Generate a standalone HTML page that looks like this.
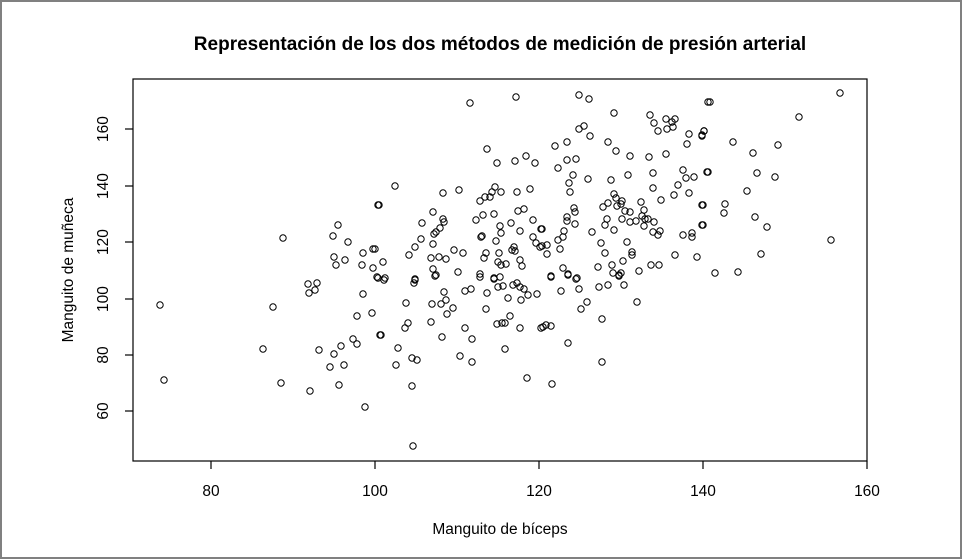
<!DOCTYPE html>
<html><head><meta charset="utf-8"><style>
html,body{margin:0;padding:0;background:#fff;}
svg{display:block;}
text{font-family:"Liberation Sans",Arial,sans-serif;fill:#000;}
</style></head><body>
<svg width="962" height="560" viewBox="0 0 962 560" xmlns="http://www.w3.org/2000/svg">
<rect x="1" y="1" width="960" height="557" fill="#fff" stroke="#808080" stroke-width="2"/>
<text x="500" y="50" font-size="19" font-weight="bold" text-anchor="middle">Representación de los dos métodos de medición de presión arterial</text>
<rect x="133" y="79" width="734" height="382" fill="none" stroke="#000" stroke-width="1.2"/>
<g stroke="#000" stroke-width="1.2">
<line x1="211" y1="461" x2="211" y2="469"/><line x1="375" y1="461" x2="375" y2="469"/><line x1="539" y1="461" x2="539" y2="469"/><line x1="703" y1="461" x2="703" y2="469"/><line x1="867" y1="461" x2="867" y2="469"/>
<line x1="125" y1="129" x2="133" y2="129"/><line x1="125" y1="186" x2="133" y2="186"/><line x1="125" y1="242" x2="133" y2="242"/><line x1="125" y1="299" x2="133" y2="299"/><line x1="125" y1="355" x2="133" y2="355"/><line x1="125" y1="411" x2="133" y2="411"/>
</g>
<g font-size="15.5" text-anchor="middle">
<text x="211" y="496">80</text><text x="375" y="496">100</text><text x="539" y="496">120</text><text x="703" y="496">140</text><text x="867" y="496">160</text>
<text transform="translate(108,129) rotate(-90)">160</text>
<text transform="translate(108,186) rotate(-90)">140</text>
<text transform="translate(108,242) rotate(-90)">120</text>
<text transform="translate(108,299) rotate(-90)">100</text>
<text transform="translate(108,355) rotate(-90)">80</text>
<text transform="translate(108,411) rotate(-90)">60</text>
<text x="500" y="534">Manguito de bíceps</text>
<text transform="translate(73,270) rotate(-90)">Manguito de muñeca</text>
</g>
<g fill="none" stroke="#000" stroke-width="1">
<circle cx="283" cy="238" r="3.2"/><circle cx="333" cy="236" r="3.2"/><circle cx="338" cy="225" r="3.2"/><circle cx="348" cy="242" r="3.2"/><circle cx="334" cy="257" r="3.2"/><circle cx="336" cy="265" r="3.2"/><circle cx="345" cy="260" r="3.2"/><circle cx="363" cy="253" r="3.2"/><circle cx="362" cy="265" r="3.2"/><circle cx="373" cy="249" r="3.2"/><circle cx="373" cy="268" r="3.2"/><circle cx="378" cy="205" r="3.2"/><circle cx="377" cy="277" r="3.2"/>
<circle cx="160" cy="305" r="3.2"/><circle cx="164" cy="380" r="3.2"/><circle cx="273" cy="307" r="3.2"/><circle cx="263" cy="349" r="3.2"/><circle cx="281" cy="383" r="3.2"/><circle cx="308" cy="284" r="3.2"/><circle cx="317" cy="283" r="3.2"/><circle cx="315" cy="290" r="3.2"/><circle cx="309" cy="293" r="3.2"/><circle cx="363" cy="294" r="3.2"/><circle cx="357" cy="316" r="3.2"/><circle cx="372" cy="313" r="3.2"/><circle cx="353" cy="339" r="3.2"/><circle cx="357" cy="344" r="3.2"/><circle cx="319" cy="350" r="3.2"/><circle cx="334" cy="354" r="3.2"/><circle cx="341" cy="346" r="3.2"/><circle cx="330" cy="367" r="3.2"/><circle cx="344" cy="365" r="3.2"/><circle cx="339" cy="385" r="3.2"/><circle cx="310" cy="391" r="3.2"/><circle cx="365" cy="407" r="3.2"/><circle cx="378" cy="278" r="3.2"/><circle cx="380" cy="335" r="3.2"/>
<circle cx="470" cy="103" r="3.2"/><circle cx="516" cy="97" r="3.2"/><circle cx="487" cy="149" r="3.2"/><circle cx="497" cy="163" r="3.2"/><circle cx="515" cy="161" r="3.2"/><circle cx="526" cy="156" r="3.2"/><circle cx="535" cy="163" r="3.2"/><circle cx="395" cy="186" r="3.2"/><circle cx="379" cy="205" r="3.2"/><circle cx="443" cy="193" r="3.2"/><circle cx="459" cy="190" r="3.2"/><circle cx="480" cy="201" r="3.2"/><circle cx="485" cy="197" r="3.2"/><circle cx="490" cy="197" r="3.2"/><circle cx="492" cy="192" r="3.2"/><circle cx="495" cy="187" r="3.2"/><circle cx="501" cy="192" r="3.2"/><circle cx="517" cy="192" r="3.2"/><circle cx="530" cy="189" r="3.2"/><circle cx="433" cy="212" r="3.2"/><circle cx="422" cy="223" r="3.2"/><circle cx="443" cy="219" r="3.2"/><circle cx="444" cy="222" r="3.2"/><circle cx="440" cy="228" r="3.2"/><circle cx="436" cy="232" r="3.2"/><circle cx="434" cy="234" r="3.2"/><circle cx="421" cy="239" r="3.2"/><circle cx="415" cy="247" r="3.2"/><circle cx="409" cy="255" r="3.2"/><circle cx="433" cy="244" r="3.2"/><circle cx="431" cy="258" r="3.2"/><circle cx="439" cy="257" r="3.2"/><circle cx="446" cy="259" r="3.2"/><circle cx="454" cy="250" r="3.2"/><circle cx="463" cy="253" r="3.2"/><circle cx="433" cy="269" r="3.2"/><circle cx="436" cy="275" r="3.2"/><circle cx="458" cy="272" r="3.2"/><circle cx="383" cy="262" r="3.2"/><circle cx="375" cy="249" r="3.2"/><circle cx="415" cy="279" r="3.2"/><circle cx="385" cy="278" r="3.2"/><circle cx="476" cy="220" r="3.2"/><circle cx="483" cy="215" r="3.2"/><circle cx="494" cy="214" r="3.2"/><circle cx="518" cy="211" r="3.2"/><circle cx="524" cy="209" r="3.2"/><circle cx="533" cy="220" r="3.2"/><circle cx="541" cy="229" r="3.2"/><circle cx="482" cy="236" r="3.2"/><circle cx="481" cy="237" r="3.2"/><circle cx="500" cy="226" r="3.2"/><circle cx="501" cy="233" r="3.2"/><circle cx="496" cy="241" r="3.2"/><circle cx="511" cy="223" r="3.2"/><circle cx="520" cy="231" r="3.2"/><circle cx="533" cy="237" r="3.2"/><circle cx="536" cy="243" r="3.2"/><circle cx="540" cy="247" r="3.2"/><circle cx="514" cy="247" r="3.2"/><circle cx="512" cy="250" r="3.2"/><circle cx="515" cy="251" r="3.2"/><circle cx="486" cy="253" r="3.2"/><circle cx="484" cy="258" r="3.2"/><circle cx="499" cy="253" r="3.2"/><circle cx="498" cy="262" r="3.2"/><circle cx="501" cy="265" r="3.2"/><circle cx="506" cy="264" r="3.2"/><circle cx="520" cy="260" r="3.2"/><circle cx="522" cy="266" r="3.2"/><circle cx="480" cy="274" r="3.2"/><circle cx="494" cy="278" r="3.2"/><circle cx="500" cy="277" r="3.2"/>
<circle cx="384" cy="280" r="3.2"/><circle cx="415" cy="280" r="3.2"/><circle cx="414" cy="283" r="3.2"/><circle cx="435" cy="276" r="3.2"/><circle cx="480" cy="277" r="3.2"/><circle cx="494" cy="279" r="3.2"/><circle cx="444" cy="292" r="3.2"/><circle cx="465" cy="291" r="3.2"/><circle cx="471" cy="289" r="3.2"/><circle cx="487" cy="293" r="3.2"/><circle cx="498" cy="287" r="3.2"/><circle cx="503" cy="286" r="3.2"/><circle cx="513" cy="285" r="3.2"/><circle cx="517" cy="283" r="3.2"/><circle cx="520" cy="287" r="3.2"/><circle cx="524" cy="289" r="3.2"/><circle cx="528" cy="295" r="3.2"/><circle cx="537" cy="294" r="3.2"/><circle cx="508" cy="298" r="3.2"/><circle cx="521" cy="300" r="3.2"/><circle cx="406" cy="303" r="3.2"/><circle cx="432" cy="304" r="3.2"/><circle cx="441" cy="304" r="3.2"/><circle cx="446" cy="300" r="3.2"/><circle cx="453" cy="308" r="3.2"/><circle cx="447" cy="314" r="3.2"/><circle cx="486" cy="309" r="3.2"/><circle cx="510" cy="316" r="3.2"/><circle cx="408" cy="323" r="3.2"/><circle cx="405" cy="328" r="3.2"/><circle cx="431" cy="322" r="3.2"/><circle cx="465" cy="328" r="3.2"/><circle cx="497" cy="324" r="3.2"/><circle cx="502" cy="323" r="3.2"/><circle cx="505" cy="323" r="3.2"/><circle cx="520" cy="328" r="3.2"/><circle cx="541" cy="328" r="3.2"/><circle cx="381" cy="335" r="3.2"/><circle cx="442" cy="337" r="3.2"/><circle cx="472" cy="339" r="3.2"/><circle cx="398" cy="348" r="3.2"/><circle cx="505" cy="349" r="3.2"/><circle cx="412" cy="358" r="3.2"/><circle cx="417" cy="360" r="3.2"/><circle cx="396" cy="365" r="3.2"/><circle cx="460" cy="356" r="3.2"/><circle cx="472" cy="362" r="3.2"/><circle cx="527" cy="378" r="3.2"/><circle cx="412" cy="386" r="3.2"/><circle cx="413" cy="446" r="3.2"/>
<circle cx="579" cy="95" r="3.2"/><circle cx="589" cy="99" r="3.2"/><circle cx="614" cy="113" r="3.2"/><circle cx="650" cy="115" r="3.2"/><circle cx="666" cy="119" r="3.2"/><circle cx="675" cy="119" r="3.2"/><circle cx="672" cy="122" r="3.2"/><circle cx="654" cy="123" r="3.2"/><circle cx="658" cy="131" r="3.2"/><circle cx="667" cy="129" r="3.2"/><circle cx="673" cy="127" r="3.2"/><circle cx="579" cy="129" r="3.2"/><circle cx="584" cy="126" r="3.2"/><circle cx="590" cy="136" r="3.2"/><circle cx="689" cy="134" r="3.2"/><circle cx="702" cy="135" r="3.2"/><circle cx="704" cy="131" r="3.2"/><circle cx="687" cy="144" r="3.2"/><circle cx="555" cy="146" r="3.2"/><circle cx="567" cy="142" r="3.2"/><circle cx="608" cy="142" r="3.2"/><circle cx="616" cy="151" r="3.2"/><circle cx="630" cy="156" r="3.2"/><circle cx="649" cy="157" r="3.2"/><circle cx="666" cy="154" r="3.2"/><circle cx="567" cy="160" r="3.2"/><circle cx="576" cy="159" r="3.2"/><circle cx="558" cy="168" r="3.2"/><circle cx="573" cy="175" r="3.2"/><circle cx="588" cy="179" r="3.2"/><circle cx="569" cy="183" r="3.2"/><circle cx="570" cy="192" r="3.2"/><circle cx="611" cy="180" r="3.2"/><circle cx="628" cy="175" r="3.2"/><circle cx="653" cy="173" r="3.2"/><circle cx="683" cy="170" r="3.2"/><circle cx="686" cy="178" r="3.2"/><circle cx="694" cy="177" r="3.2"/><circle cx="707" cy="172" r="3.2"/><circle cx="678" cy="185" r="3.2"/><circle cx="653" cy="188" r="3.2"/><circle cx="689" cy="193" r="3.2"/><circle cx="674" cy="195" r="3.2"/><circle cx="661" cy="200" r="3.2"/><circle cx="702" cy="205" r="3.2"/><circle cx="614" cy="194" r="3.2"/><circle cx="616" cy="198" r="3.2"/><circle cx="622" cy="201" r="3.2"/><circle cx="621" cy="204" r="3.2"/><circle cx="608" cy="203" r="3.2"/><circle cx="603" cy="207" r="3.2"/><circle cx="617" cy="206" r="3.2"/><circle cx="641" cy="202" r="3.2"/><circle cx="625" cy="211" r="3.2"/><circle cx="630" cy="212" r="3.2"/><circle cx="644" cy="210" r="3.2"/><circle cx="642" cy="216" r="3.2"/><circle cx="645" cy="219" r="3.2"/><circle cx="648" cy="219" r="3.2"/><circle cx="654" cy="222" r="3.2"/><circle cx="636" cy="221" r="3.2"/><circle cx="630" cy="222" r="3.2"/><circle cx="622" cy="219" r="3.2"/><circle cx="607" cy="219" r="3.2"/><circle cx="605" cy="225" r="3.2"/><circle cx="614" cy="230" r="3.2"/><circle cx="644" cy="226" r="3.2"/><circle cx="653" cy="232" r="3.2"/><circle cx="660" cy="231" r="3.2"/><circle cx="658" cy="235" r="3.2"/><circle cx="683" cy="235" r="3.2"/><circle cx="692" cy="233" r="3.2"/><circle cx="692" cy="237" r="3.2"/><circle cx="702" cy="225" r="3.2"/><circle cx="574" cy="208" r="3.2"/><circle cx="575" cy="212" r="3.2"/><circle cx="567" cy="217" r="3.2"/><circle cx="567" cy="221" r="3.2"/><circle cx="575" cy="224" r="3.2"/><circle cx="564" cy="231" r="3.2"/><circle cx="563" cy="237" r="3.2"/><circle cx="558" cy="240" r="3.2"/><circle cx="542" cy="229" r="3.2"/><circle cx="542" cy="246" r="3.2"/><circle cx="547" cy="245" r="3.2"/><circle cx="560" cy="249" r="3.2"/><circle cx="547" cy="254" r="3.2"/><circle cx="592" cy="232" r="3.2"/><circle cx="601" cy="243" r="3.2"/><circle cx="627" cy="242" r="3.2"/><circle cx="605" cy="253" r="3.2"/><circle cx="632" cy="252" r="3.2"/><circle cx="632" cy="255" r="3.2"/><circle cx="623" cy="261" r="3.2"/><circle cx="598" cy="267" r="3.2"/><circle cx="612" cy="265" r="3.2"/><circle cx="613" cy="273" r="3.2"/><circle cx="619" cy="275" r="3.2"/><circle cx="621" cy="273" r="3.2"/><circle cx="639" cy="271" r="3.2"/><circle cx="651" cy="265" r="3.2"/><circle cx="659" cy="265" r="3.2"/><circle cx="675" cy="255" r="3.2"/><circle cx="697" cy="257" r="3.2"/><circle cx="563" cy="268" r="3.2"/><circle cx="568" cy="274" r="3.2"/><circle cx="551" cy="276" r="3.2"/><circle cx="577" cy="278" r="3.2"/><circle cx="708" cy="102" r="3.2"/>
<circle cx="551" cy="277" r="3.2"/><circle cx="568" cy="275" r="3.2"/><circle cx="576" cy="279" r="3.2"/><circle cx="619" cy="276" r="3.2"/><circle cx="561" cy="291" r="3.2"/><circle cx="579" cy="289" r="3.2"/><circle cx="599" cy="287" r="3.2"/><circle cx="608" cy="285" r="3.2"/><circle cx="624" cy="285" r="3.2"/><circle cx="637" cy="302" r="3.2"/><circle cx="587" cy="302" r="3.2"/><circle cx="581" cy="309" r="3.2"/><circle cx="602" cy="319" r="3.2"/><circle cx="543" cy="327" r="3.2"/><circle cx="546" cy="325" r="3.2"/><circle cx="551" cy="326" r="3.2"/><circle cx="568" cy="343" r="3.2"/><circle cx="602" cy="362" r="3.2"/><circle cx="552" cy="384" r="3.2"/>
<circle cx="840" cy="93" r="3.2"/><circle cx="710" cy="102" r="3.2"/><circle cx="799" cy="117" r="3.2"/><circle cx="704" cy="131" r="3.2"/><circle cx="702" cy="136" r="3.2"/><circle cx="733" cy="142" r="3.2"/><circle cx="753" cy="153" r="3.2"/><circle cx="778" cy="145" r="3.2"/><circle cx="708" cy="172" r="3.2"/><circle cx="757" cy="173" r="3.2"/><circle cx="775" cy="177" r="3.2"/><circle cx="747" cy="191" r="3.2"/><circle cx="703" cy="205" r="3.2"/><circle cx="725" cy="204" r="3.2"/><circle cx="724" cy="213" r="3.2"/><circle cx="755" cy="217" r="3.2"/><circle cx="767" cy="227" r="3.2"/><circle cx="703" cy="225" r="3.2"/><circle cx="831" cy="240" r="3.2"/><circle cx="761" cy="254" r="3.2"/><circle cx="715" cy="273" r="3.2"/><circle cx="738" cy="272" r="3.2"/>
</g>
</svg>
</body></html>
